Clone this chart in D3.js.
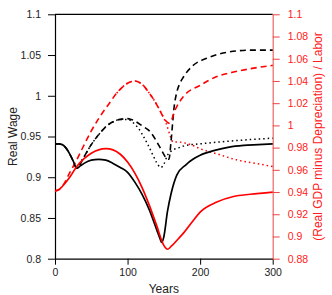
<!DOCTYPE html>
<html><head><meta charset="utf-8">
<script src="https://cdn.jsdelivr.net/npm/d3@7"></script>
<style>body{margin:0;background:#fff}svg{display:block;font-family:"Liberation Sans",Arial,sans-serif}</style>
</head><body><svg id="c" width="332" height="295"></svg>
<script>
const xTicks = [0, 100, 200, 300];
const leftTicks = [0.8, 0.85, 0.9, 0.95, 1, 1.05, 1.1];
const rightTicks = [0.88, 0.9, 0.92, 0.94, 0.96, 0.98, 1, 1.02, 1.04, 1.06, 1.08, 1.1];

// Black solid (left axis)
const bsT = [0,5,10,15,20,25,30,35,40,50,60,70,80,90,100,110,120,130,140,145,147,150,155,160,168,180,190,200,220,240,260,280,300];
const bsV = [0.941,0.941,0.940,0.936,0.929,0.920,0.911,0.914,0.917,0.921,0.922,0.921,0.917,0.912,0.906,0.894,0.879,0.860,0.836,0.824,0.820,0.827,0.858,0.880,0.903,0.915,0.922,0.927,0.933,0.937,0.939,0.940,0.941];
// Black dashed (left axis)
const bdT = [0,5,10,15,20,25,30,40,50,60,70,80,90,100,105,110,120,131,140,145,150,155,157,160,164,168,172,177,190,209,241,270,300];
const bdV = [0.941,0.941,0.940,0.936,0.929,0.920,0.911,0.925,0.940,0.952,0.962,0.968,0.971,0.972,0.971,0.969,0.963,0.956,0.944,0.936,0.928,0.922,0.922,0.945,0.985,1.005,1.015,1.023,1.037,1.046,1.054,1.056,1.056];
// Black dotted (left axis)
const btT = [30,40,50,60,70,80,90,100,105,110,115,120,128,135,140,146,150,155,160,170,180,200,250,300];
const btV = [0.911,0.925,0.940,0.952,0.962,0.968,0.971,0.971,0.969,0.965,0.960,0.953,0.940,0.927,0.918,0.912,0.916,0.927,0.932,0.936,0.939,0.941,0.945,0.948];
// Red solid (right axis)
const rsT = [0,5,10,20,30,40,50,60,70,80,90,100,110,120,130,140,150,155,160,170,177,190,200,223,246,269,300];
const rsV = [0.941,0.942,0.945,0.953,0.963,0.970,0.975,0.978,0.979,0.978,0.974,0.967,0.957,0.944,0.928,0.910,0.892,0.8885,0.891,0.898,0.903,0.914,0.922,0.931,0.936,0.938,0.940];
// Red dashed (right axis)
const rdT = [0,5,11,20,30,39,50,62,75,85,100,110,120,130,140,148,153,157,160,165,177,200,223,246,269,300];
const rdV = [0.941,0.942,0.946,0.957,0.969,0.981,0.995,1.008,1.020,1.029,1.038,1.040,1.037,1.029,1.019,1.009,1.004,1.002,1.004,1.013,1.026,1.036,1.044,1.048,1.051,1.054];
// Red dotted (right axis)
const rtT = [85,100,110,120,130,140,148,153,157,160,163,170,180,190,200,225,250,275,300];
const rtV = [1.029,1.038,1.040,1.037,1.029,1.019,1.009,1.002,0.994,0.988,0.985,0.985,0.984,0.982,0.979,0.974,0.969,0.966,0.963];

const svg = d3.select("#c");
const L = 55, R = 272.7, T = 14.3, B = 258.7;
const x = d3.scaleLinear().domain([0, 300]).range([L, R]);
const yL = d3.scaleLinear().domain([0.8, 1.1]).range([B, T]);
const yR = d3.scaleLinear().domain([0.88, 1.1]).range([B, T]);

// frame
svg.append("line").attr("x1", L).attr("x2", R).attr("y1", T).attr("y2", T).attr("stroke", "#000").attr("stroke-width", 1.2);

const gx = svg.append("g").attr("transform", `translate(0,${B})`)
  .call(d3.axisBottom(x).tickValues(xTicks).tickSize(6).tickSizeOuter(0).tickPadding(4).tickFormat(d3.format("d")));
gx.select(".domain").attr("stroke-width", 1.2);
gx.selectAll("text").attr("font-size", 10.5).attr("fill", "#222").attr("font-family", "Liberation Sans, Arial");

const gl = svg.append("g").attr("transform", `translate(${L},0)`)
  .call(d3.axisLeft(yL).tickValues(leftTicks).tickSize(7).tickSizeOuter(0).tickPadding(7).tickFormat(d => String(+d.toFixed(2))));
gl.select(".domain").attr("stroke-width", 1.2);
gl.selectAll("text").attr("font-size", 10.5).attr("fill", "#222").attr("font-family", "Liberation Sans, Arial");

const gr = svg.append("g").attr("transform", `translate(${R},0)`)
  .call(d3.axisRight(yR).tickValues(rightTicks).tickSize(7).tickSizeOuter(0).tickPadding(8).tickFormat(d => String(+d.toFixed(2))));
gr.select(".domain").attr("stroke", "#ee6666").attr("stroke-width", 1.2);
gr.selectAll(".tick line").attr("stroke", "#ee4444");
gr.selectAll("text").attr("font-size", 10.5).attr("fill", "#ff2020").attr("font-family", "Liberation Sans, Arial");

// labels
svg.append("text").attr("x", (L + R) / 2 + 0).attr("y", 293).attr("text-anchor", "middle").attr("font-size", 12).attr("fill", "#222").text("Years");
svg.append("text").attr("transform", `translate(17,${(T + B) / 2}) rotate(-90)`).attr("text-anchor", "middle").attr("font-size", 12).attr("fill", "#222").text("Real Wage");
svg.append("text").attr("transform", `translate(322,${(T + B) / 2}) rotate(-90)`).attr("text-anchor", "middle").attr("font-size", 12).attr("fill", "#ff2020").text("(Real GDP minus Depreciation) / Labor");

function draw(ts, vs, ys, color, dash, w) {
  const pts = ts.map((t, i) => [t, vs[i]]);
  const line = d3.line().x(d => x(d[0])).y(d => ys(d[1])).curve(d3.curveMonotoneX);
  svg.append("path").attr("d", line(pts)).attr("fill", "none").attr("stroke", color)
    .attr("stroke-width", w).attr("stroke-dasharray", dash);
}
draw(btT, btV, yL, "#000", "1.5 3", 1.5);
draw(rtT, rtV, yR, "#ff0000", "1.5 3", 1.5);
draw(bdT, bdV, yL, "#000", "6 4", 1.6);
draw(rdT, rdV, yR, "#ff0000", "6 4", 1.6);
draw(bsT, bsV, yL, "#000", null, 1.7);
draw(rsT, rsV, yR, "#ff0000", null, 1.7);
</script></body></html>
